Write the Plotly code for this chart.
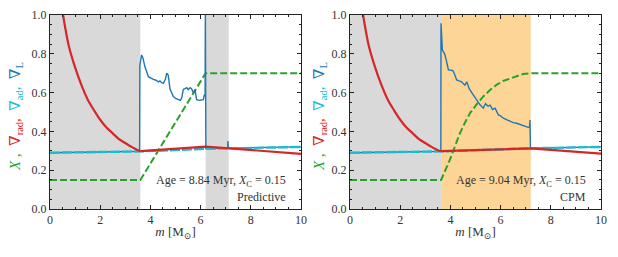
import plotly.graph_objects as go
from plotly.subplots import make_subplots

# ---------------- data ----------------
# radiative gradient in the convective core (shared shape)
m_rad_core = [0.45, 0.52, 0.75, 1.0, 1.25, 1.5, 1.75, 2.0, 2.25, 2.5, 2.75, 3.0, 3.25, 3.5]
v_rad_core = [1.06, 1.0, 0.84, 0.73, 0.64, 0.565, 0.51, 0.46, 0.42, 0.39, 0.36, 0.34, 0.32, 0.303]

# Left panel (Predictive)
m_rad_L = [3.6, 6.2, 10.0]
v_rad_L = [0.298, 0.322, 0.284]
m_ad_L = [0, 3.6, 6.2, 10.0]
v_ad_L = [0.290, 0.297, 0.310, 0.320]
m_nl_L = [0, 3.57, 3.58, 3.65, 3.70, 3.78, 3.92, 4.05, 4.12, 4.20, 4.25, 4.32, 4.38, 4.45, 4.52,
          4.60, 4.65, 4.71, 4.78, 4.91, 5.00, 5.11, 5.20, 5.25, 5.31, 5.38, 5.45, 5.51, 5.58,
          5.64, 5.71, 5.78, 5.84, 5.95, 6.04, 6.11, 6.15, 6.18, 6.19, 6.21, 7.08, 7.09, 7.10, 10.0]
v_nl_L = [0.290, 0.297, 0.74, 0.794, 0.78, 0.734, 0.682, 0.670, 0.668, 0.665, 0.661, 0.655, 0.660,
          0.651, 0.648, 0.670, 0.700, 0.690, 0.620, 0.581, 0.570, 0.564, 0.560, 0.574, 0.616, 0.620,
          0.625, 0.615, 0.625, 0.620, 0.600, 0.616, 0.564, 0.560, 0.561, 0.564, 0.590, 0.580, 1.05,
          0.312, 0.314, 0.350, 0.314, 0.320]
m_X_L = [0, 3.6, 6.2, 10.0]
v_X_L = [0.15, 0.15, 0.70, 0.70]
conv_gray_L = [(0, 3.6), (6.2, 7.12)]

# Right panel (CPM)
m_rad_R = [3.63, 7.2, 10.0]
v_rad_R = [0.298, 0.312, 0.285]
m_ad_R = [0, 3.63, 7.2, 10.0]
v_ad_R = [0.290, 0.297, 0.313, 0.320]
m_nl_R = [0, 3.62, 3.625, 3.65, 3.68, 3.72, 3.77, 3.85, 3.92, 4.05, 4.12, 4.18, 4.25, 4.35, 4.45,
          4.52, 4.58, 4.65, 4.75, 4.85, 4.91, 5.05, 5.18, 5.31, 5.40, 5.50, 5.58, 5.68, 5.78, 5.91,
          6.00, 6.11, 6.25, 6.37, 6.50, 6.64, 6.77, 6.90, 7.00, 7.10, 7.15, 7.17, 7.19, 10.0]
v_nl_R = [0.290, 0.297, 0.957, 0.86, 0.82, 0.81, 0.80, 0.76, 0.717, 0.715, 0.71, 0.69, 0.665, 0.66,
          0.656, 0.645, 0.638, 0.656, 0.62, 0.60, 0.588, 0.563, 0.537, 0.52, 0.543, 0.53, 0.535,
          0.513, 0.52, 0.485, 0.48, 0.468, 0.46, 0.451, 0.445, 0.442, 0.435, 0.428, 0.425, 0.421,
          0.42, 0.459, 0.313, 0.320]
m_X_R = [0, 3.63, 3.98, 4.18, 4.38, 4.58, 4.78, 5.05, 5.31, 5.58, 5.84, 6.10, 6.37, 6.64, 6.90, 7.2, 10.0]
v_X_R = [0.15, 0.15, 0.254, 0.325, 0.391, 0.445, 0.494, 0.54, 0.58, 0.613, 0.64, 0.66, 0.673, 0.687, 0.696, 0.70, 0.70]
conv_gray_R = [(0, 3.63)]
conv_orange_R = [(3.63, 7.2)]

ages = ["8.84", "9.04"]
models = ["Predictive", "CPM"]
xticks = [0, 2, 4, 6, 8, 10]
yticks = [0.0, 0.2, 0.4, 0.6, 0.8, 1.0]

# ---------------- styles ----------------
C_RED = "#d62728"
C_GREEN = "#2ca02c"
C_BLUE = "#1f77b4"
C_CYAN = "#17becf"
C_GRAY = "#d9d9d9"
C_ORANGE = "#fdd596"
FONT = "Liberation Serif, DejaVu Serif, serif"

fig = make_subplots(rows=1, cols=2, horizontal_spacing=0.089)

panels = [
    (m_rad_L, v_rad_L, m_ad_L, v_ad_L, m_nl_L, v_nl_L, m_X_L, v_X_L),
    (m_rad_R, v_rad_R, m_ad_R, v_ad_R, m_nl_R, v_nl_R, m_X_R, v_X_R),
]
for i, (mr, vr, ma, va, mn, vn, mx, vx) in enumerate(panels, start=1):
    fig.add_trace(go.Scatter(x=mx, y=vx, mode="lines",
                             line=dict(color=C_GREEN, width=2, dash="7px,3px")), row=1, col=i)
    fig.add_trace(go.Scatter(x=mn, y=vn, mode="lines",
                             line=dict(color=C_BLUE, width=1.4)), row=1, col=i)
    fig.add_trace(go.Scatter(x=ma, y=va, mode="lines",
                             line=dict(color=C_CYAN, width=2.4, dash="10px,2px")), row=1, col=i)
    fig.add_trace(go.Scatter(x=m_rad_core + [mr[0]], y=v_rad_core + [vr[0]], mode="lines",
                             line_shape="spline",
                             line=dict(color=C_RED, width=2.2, smoothing=0.8)), row=1, col=i)
    fig.add_trace(go.Scatter(x=mr, y=vr, mode="lines",
                             line=dict(color=C_RED, width=2.2)), row=1, col=i)

shapes = []
for (a, b) in conv_gray_L:
    shapes.append(dict(type="rect", xref="x", yref="y domain", x0=a, x1=b, y0=0, y1=1,
                       fillcolor=C_GRAY, line_width=0, layer="below"))
for (a, b) in conv_gray_R:
    shapes.append(dict(type="rect", xref="x2", yref="y2 domain", x0=a, x1=b, y0=0, y1=1,
                       fillcolor=C_GRAY, line_width=0, layer="below"))
for (a, b) in conv_orange_R:
    shapes.append(dict(type="rect", xref="x2", yref="y2 domain", x0=a, x1=b, y0=0, y1=1,
                       fillcolor=C_ORANGE, line_width=0, layer="below"))

axis_common = dict(showline=True, linecolor="#222", linewidth=1, mirror="allticks",
                   ticks="inside", ticklen=4, tickcolor="#222", showgrid=False, zeroline=False,
                   automargin=False,
                   tickfont=dict(family=FONT, size=12, color="#333"))
for i in (1, 2):
    fig.update_xaxes(range=[0, 10], tickvals=xticks, row=1, col=i,
                     minor=dict(ticks="inside", ticklen=2, dtick=0.5, tick0=0, tickcolor="#222"),
                     title=dict(text="<i>m</i> [M<sub>⊙</sub>]", standoff=0,
                                font=dict(family=FONT, size=13, color="#333")),
                     **axis_common)
    fig.update_yaxes(range=[0, 1], tickvals=yticks, tickformat=".1f", row=1, col=i,
                     minor=dict(ticks="inside", ticklen=2, dtick=0.05, tick0=0, tickcolor="#222"),
                     **axis_common)

ytitle = (f"<span style='color:{C_GREEN}'><i>X</i> ,</span>  "
          f"<span style='color:{C_RED}'>∇<sub>rad</sub>,</span>  "
          f"<span style='color:{C_CYAN}'>∇<sub>ad</sub>,</span>  "
          f"<span style='color:{C_BLUE}'>∇<sub>L</sub></span>")

# page body adds an 8 px offset; plot areas sit at 50-301 / 350-601, 15-209 in the window
annotations = []
for xpix in (16, 320):
    annotations.append(dict(text=ytitle, xref="paper", yref="paper",
                            x=(xpix - 50) / 551, y=(209 - 117) / 194,
                            xanchor="center", yanchor="middle",
                            textangle=-90, showarrow=False,
                            font=dict(family=FONT, size=15)))
for (xref, yref), age, model in zip((("x", "y"), ("x2", "y2")), ages, models):
    annotations.append(dict(text=f"Age = {age} Myr, <i>X</i><sub>C</sub> = 0.15",
                            xref=xref, yref=yref, x=9.5, y=0.145, xanchor="right",
                            yanchor="middle", showarrow=False,
                            font=dict(family=FONT, size=12, color="#333")))
    annotations.append(dict(text=model, xref=xref, yref=yref, x=9.5, y=0.063,
                            xanchor="right", yanchor="middle", showarrow=False,
                            font=dict(family=FONT, size=12, color="#333")))

fig.update_layout(width=610, height=249, margin=dict(l=42, r=17, t=7, b=48, autoexpand=False),
                  paper_bgcolor="white", plot_bgcolor="white", showlegend=False,
                  shapes=shapes, annotations=annotations,
                  font=dict(family=FONT))

fig.write_html("out.html")
